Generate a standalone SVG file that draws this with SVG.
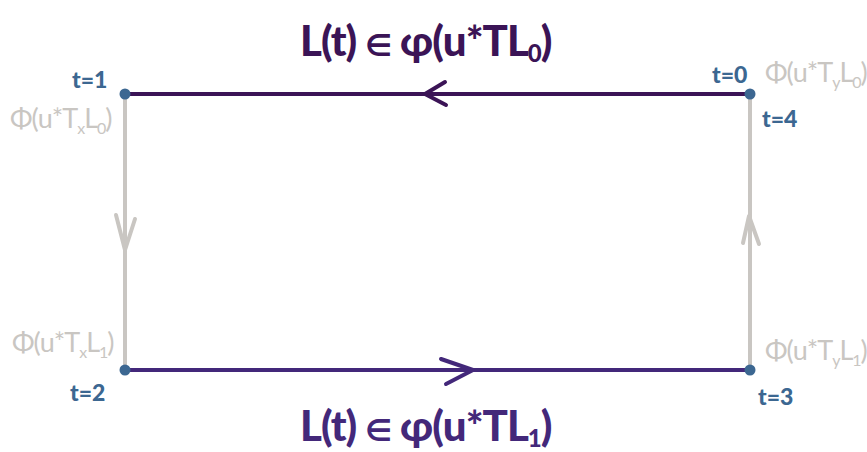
<svg xmlns="http://www.w3.org/2000/svg" width="867" height="452" viewBox="0 0 867 452">
<style>
.edge{fill:none;stroke-width:4;stroke-linecap:round;stroke-linejoin:round}
.top{stroke:#3b1456}
.bot{stroke:#43287a}
.side{stroke:#c9c6c2}
.dot{fill:#3c6791}
.t{font-family:"Lato","DejaVu Sans",sans-serif;font-weight:900;fill:#3c6791;font-size:23px}
.g{font-family:"Lato","DejaVu Sans",sans-serif;fill:#c9c6c2;font-size:27px;letter-spacing:-1px}
.big{font-family:"Lato","DejaVu Sans",sans-serif;font-weight:900;font-size:42px;letter-spacing:-1px}
.sub{font-size:16px}
.bsub{font-size:24px}
.el{font-size:30px}
</style>
<rect width="867" height="452" fill="#ffffff"/>
<g id="connectors">
<path class="edge top" d="M750 94 H125"/>
<path class="edge top" d="M445 82 L425 94 L446 105" stroke-width="5"/>
<path class="edge bot" d="M125 370 H750"/>
<path class="edge bot" d="M441 359 L473 370 L446 384" stroke-width="5"/>
<path class="edge side" d="M125 94 V370"/>
<path class="edge side" d="M116 215 L125 250 L135 219"/>
<path class="edge side" d="M750 370 V94"/>
<path class="edge side" d="M743 243 L749 216 L759 244"/>
</g>
<g id="n0"><circle class="dot" cx="750" cy="94" r="5.5"/><text class="t" x="712" y="83">t=0</text><text class="t" x="762" y="127">t=4</text></g>
<g id="n1"><circle class="dot" cx="125" cy="94" r="5.5"/><text class="t" x="72" y="88">t=1</text></g>
<g id="n2"><circle class="dot" cx="125" cy="370" r="5.5"/><text class="t" x="70" y="401">t=2</text></g>
<g id="n3"><circle class="dot" cx="750" cy="370" r="5.5"/><text class="t" x="758" y="405">t=3</text></g>
<g id="labels">
<text class="big" x="300" y="56" fill="#3b1456">L(t) <tspan class="el">∈</tspan> φ(u*TL<tspan class="bsub" dy="6">0</tspan><tspan dy="-6">)</tspan></text>
<text class="big" x="300" y="441" fill="#43287a">L(t) <tspan class="el">∈</tspan> φ(u*TL<tspan class="bsub" dy="6">1</tspan><tspan dy="-6">)</tspan></text>
<text class="g" x="10" y="128">Φ(u*T<tspan class="sub" dy="6">x</tspan><tspan dy="-6">L</tspan><tspan class="sub" dy="6">0</tspan><tspan dy="-6">)</tspan></text>
<text class="g" x="765" y="82">Φ(u*T<tspan class="sub" dy="6">y</tspan><tspan dy="-6">L</tspan><tspan class="sub" dy="6">0</tspan><tspan dy="-6">)</tspan></text>
<text class="g" x="12" y="352">Φ(u*T<tspan class="sub" dy="6">x</tspan><tspan dy="-6">L</tspan><tspan class="sub" dy="6">1</tspan><tspan dy="-6">)</tspan></text>
<text class="g" x="765" y="360">Φ(u*T<tspan class="sub" dy="6">y</tspan><tspan dy="-6">L</tspan><tspan class="sub" dy="6">1</tspan><tspan dy="-6">)</tspan></text>
</g>
</svg>
